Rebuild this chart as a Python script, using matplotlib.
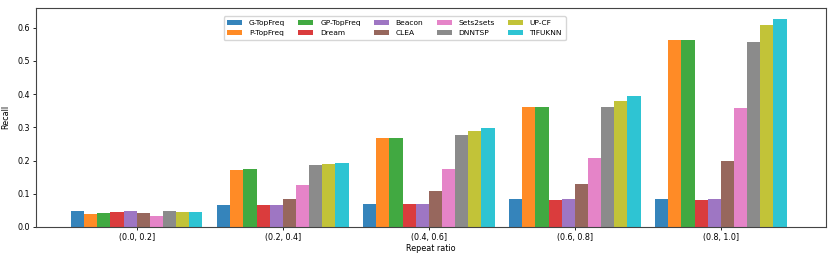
import matplotlib
matplotlib.use("Agg")
import matplotlib.pyplot as plt
import numpy as np

categories = ["(0.0, 0.2]", "(0.2, 0.4]", "(0.4, 0.6]", "(0.6, 0.8]", "(0.8, 1.0]"]
methods = ["G-TopFreq", "P-TopFreq", "GP-TopFreq", "Dream", "Beacon",
           "CLEA", "Sets2sets", "DNNTSP", "UP-CF", "TIFUKNN"]

g_topfreq  = [0.048, 0.066, 0.070, 0.083, 0.085]
p_topfreq  = [0.038, 0.173, 0.268, 0.360, 0.563]
gp_topfreq = [0.041, 0.174, 0.268, 0.360, 0.563]
dream      = [0.045, 0.066, 0.070, 0.081, 0.081]
beacon     = [0.048, 0.066, 0.070, 0.083, 0.084]
clea       = [0.042, 0.085, 0.107, 0.129, 0.198]
sets2sets  = [0.034, 0.125, 0.175, 0.208, 0.359]
dnntsp     = [0.049, 0.187, 0.277, 0.360, 0.556]
up_cf      = [0.044, 0.191, 0.289, 0.379, 0.609]
tifuknn    = [0.044, 0.193, 0.299, 0.395, 0.627]

series = [g_topfreq, p_topfreq, gp_topfreq, dream, beacon,
          clea, sets2sets, dnntsp, up_cf, tifuknn]
colors = plt.get_cmap("tab10").colors

fs = 5.75
lfs = 5.4
fig = plt.figure(figsize=(8.3, 2.6), dpi=100)
ax = fig.add_axes([0.0434, 0.127, 0.9518, 0.843])

x = np.arange(len(categories))
w = 0.09
n = len(series)
for i, (vals, name) in enumerate(zip(series, methods)):
    ax.bar(x + (i - (n - 1) / 2) * w, vals, width=w, color=colors[i],
           alpha=0.9, label=name)

ax.set_xticks(x)
ax.set_xticklabels(categories, fontsize=fs)
ax.set_xlim(-0.69, 4.72)
ax.set_ylim(0, 0.66)
ax.set_yticks([0.0, 0.1, 0.2, 0.3, 0.4, 0.5, 0.6])
ax.tick_params(axis="y", labelsize=fs, length=2.5, width=0.6, pad=2)
ax.tick_params(axis="x", length=2.5, width=0.6, pad=2)
ax.set_xlabel("Repeat ratio", fontsize=fs, labelpad=1.5)
ax.set_ylabel("Recall", fontsize=fs, labelpad=5)
for s in ax.spines.values():
    s.set_linewidth(0.8)
    s.set_color("#444444")

ax.legend(ncol=5, loc="upper center", fontsize=lfs, frameon=True,
          handlelength=2.0, handletextpad=0.9, columnspacing=1.75,
          borderaxespad=1.1, handleheight=0.6, labelspacing=0.6,
          borderpad=0.5, bbox_to_anchor=(0.454, 1.0))

fig.savefig("out.png", dpi=100)
